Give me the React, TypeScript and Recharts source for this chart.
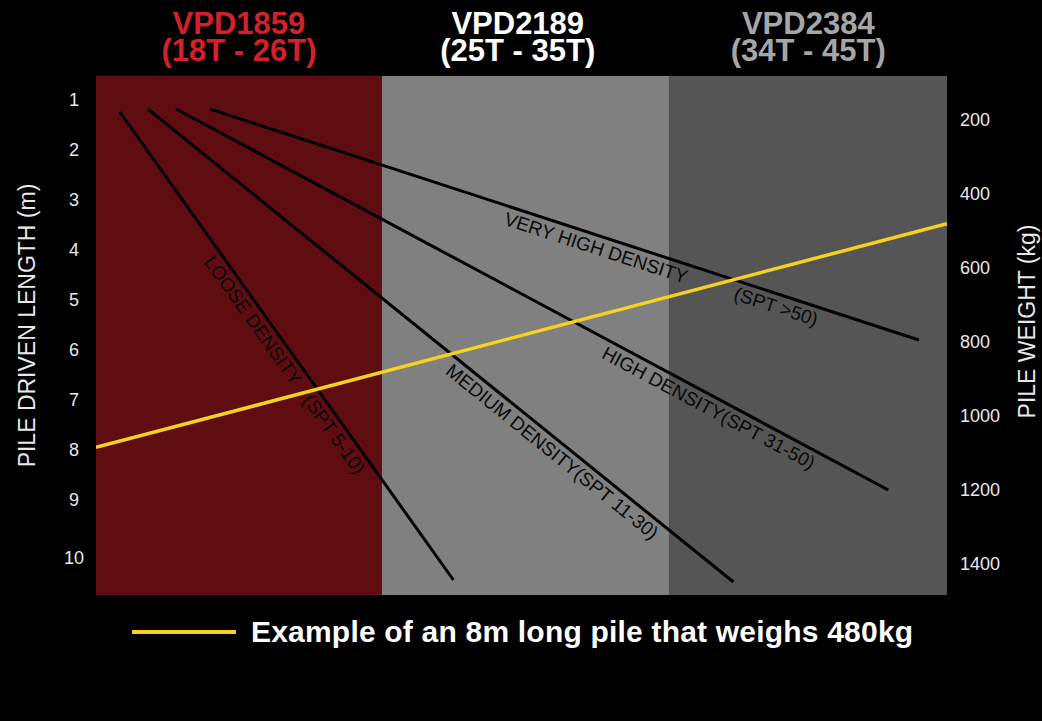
import React from 'react';
import {
  ComposedChart,
  Line,
  XAxis,
  YAxis,
  ReferenceArea,
  ReferenceDot,
  Legend,
} from 'recharts';

const FONT = "'Liberation Sans', Arial, Helvetica, sans-serif";

// hammer bands across the x range (0-100)
const bandNames = ['VPD1859', 'VPD2189', 'VPD2384'];
const bandRanges = ['(18T - 26T)', '(25T - 35T)', '(34T - 45T)'];
const bandEdges = [0, 33.6, 67.4, 100];
const bandFills = ['#600d12', '#808080', '#555555'];
const bandTitleColors = ['#d3202a', '#ffffff', '#a6a6a6'];
const bandTitleShift = [0, -8, 0];

// soil density lines (x position, pile driven length in m)
const densityStartX = [2.8, 6.1, 9.4, 13.4];
const densityStartLength = [1.24, 1.18, 1.18, 1.18];
const densityEndX = [42.0, 74.9, 93.1, 96.7];
const densityEndLength = [10.6, 10.64, 8.8, 5.8];

// label texts and where they sit along each line (0..1)
const labelLine = [0, 0, 1, 2, 3, 3];
const labelText = [
  'LOOSE DENSITY',
  '(SPT 5-10)',
  'MEDIUM DENSITY(SPT 11-30)',
  'HIGH DENSITY(SPT 31-50)',
  'VERY HIGH DENSITY',
  '(SPT >50)',
];
const labelAlong = [0.43, 0.673, 0.704, 0.756, 0.55, 0.804];

// example pile (weight axis)
const exampleX = [0, 100];
const exampleWeight = [1085, 480];

const lengthTicks = [1, 2, 3, 4, 5, 6, 7, 8, 9, 10.15];
const lengthDomain = [0.52, 10.9];
const weightTicks = [200, 400, 600, 800, 1000, 1200, 1400];
const weightDomain = [81, 1484];

const densityData = densityStartX.map((sx, i) => [
  { x: sx, len: densityStartLength[i] },
  { x: densityEndX[i], len: densityEndLength[i] },
]);
const exampleData = exampleX.map((x, i) => ({ x, kg: exampleWeight[i] }));

// plot size in px, only used to turn line slopes into text angles
const PLOT_W = 851;
const PLOT_H = 519;
const pxPerX = PLOT_W / 100;
const pxPerLen = PLOT_H / (lengthDomain[1] - lengthDomain[0]);

const BandTitle = (props: any) => {
  const { viewBox, name, range, color, shift } = props;
  const cx = viewBox.x + viewBox.width / 2 + shift;
  return (
    <text x={cx} y={viewBox.y - 42} textAnchor="middle" fill={color} fontSize={31} fontWeight="bold" fontFamily={FONT}>
      <tspan x={cx}>{name}</tspan>
      <tspan x={cx} dy={27}>
        {range}
      </tspan>
    </text>
  );
};

const DensityLabel = (props: any) => {
  const { viewBox, text, angle } = props;
  const cx = viewBox.x + (viewBox.width || 0) / 2;
  const cy = viewBox.y + (viewBox.height || 0) / 2;
  return (
    <text
      x={cx}
      y={cy}
      dy={19}
      transform={`rotate(${angle} ${cx} ${cy})`}
      textAnchor="middle"
      fill="#0a0a0a"
      fontSize={19}
      fontFamily={FONT}
    >
      {text}
    </text>
  );
};

const LengthTick = (props: any) => {
  const { x, y, payload } = props;
  return (
    <text x={x - 22} y={y} dy={6} textAnchor="middle" fill="#e8e8e8" fontSize={18} fontFamily={FONT}>
      {Math.round(payload.value)}
    </text>
  );
};

const WeightTick = (props: any) => {
  const { x, y, payload } = props;
  return (
    <text x={x + 13} y={y} dy={6} textAnchor="start" fill="#e8e8e8" fontSize={18} fontFamily={FONT}>
      {payload.value}
    </text>
  );
};

const AxisTitle = (props: any) => {
  const { viewBox, text, dx, dyc } = props;
  const x = viewBox.x + dx;
  const y = viewBox.y + viewBox.height / 2 + dyc;
  return (
    <text
      x={x}
      y={y}
      transform={`rotate(-90 ${x} ${y})`}
      textAnchor="middle"
      dominantBaseline="central"
      fill="#e8e8e8"
      fontSize={23}
      fontFamily={FONT}
    >
      {text}
    </text>
  );
};

const ExampleLegend = () => (
  <div style={{ display: 'flex', alignItems: 'center', paddingLeft: 132, height: 40 }}>
    <span style={{ display: 'inline-block', width: 104, height: 4, background: '#f3d31e', marginRight: 15 }} />
    <span
      style={{
        color: '#fff',
        fontFamily: FONT,
        fontWeight: 'bold',
        fontSize: 30,
        letterSpacing: 0.2,
        lineHeight: '40px',
      }}
    >
      Example of an 8m long pile that weighs 480kg
    </span>
  </div>
);

export default function App() {
  return (
    <div style={{ position: 'fixed', left: 0, top: 0, width: 1042, height: 721, background: '#000' }}>
      <ComposedChart width={1042} height={721} margin={{ top: 76, right: 0, bottom: 126, left: 0 }}>
        <XAxis type="number" dataKey="x" domain={[0, 100]} hide allowDataOverflow />
        <YAxis
          yAxisId="len"
          orientation="left"
          width={96}
          reversed
          domain={lengthDomain}
          ticks={lengthTicks}
          interval={0}
          allowDataOverflow
          axisLine={false}
          tickLine={false}
          tickSize={0}
          tickMargin={0}
          tick={<LengthTick />}
          label={(p: any) => <AxisTitle {...p} text="PILE DRIVEN LENGTH (m)" dx={27} dyc={-10} />}
        />
        <YAxis
          yAxisId="kg"
          orientation="right"
          width={95}
          reversed
          domain={weightDomain}
          ticks={weightTicks}
          interval={0}
          allowDataOverflow
          axisLine={false}
          tickLine={false}
          tickSize={0}
          tickMargin={0}
          tick={<WeightTick />}
          label={(p: any) => <AxisTitle {...p} text="PILE WEIGHT (kg)" dx={80} dyc={-14} />}
        />

        {bandNames.map((name, i) => (
          <ReferenceArea
            key={name}
            yAxisId="len"
            x1={bandEdges[i]}
            x2={bandEdges[i + 1]}
            fill={bandFills[i]}
            fillOpacity={1}
            stroke="none"
            ifOverflow="visible"
            label={(p: any) => (
              <BandTitle {...p} name={name} range={bandRanges[i]} color={bandTitleColors[i]} shift={bandTitleShift[i]} />
            )}
          />
        ))}

        {densityData.map((d, i) => (
          <Line
            key={`density-${i}`}
            yAxisId="len"
            data={d}
            dataKey="len"
            type="linear"
            stroke="#000"
            strokeWidth={3}
            dot={false}
            activeDot={false}
            legendType="none"
            isAnimationActive={false}
          />
        ))}

        <Line
          yAxisId="kg"
          data={exampleData}
          dataKey="kg"
          type="linear"
          stroke="#f3d31e"
          strokeWidth={3.5}
          dot={false}
          activeDot={false}
          isAnimationActive={false}
        />

        {labelText.map((text, k) => {
          const i = labelLine[k];
          const t = labelAlong[k];
          const dx = densityEndX[i] - densityStartX[i];
          const dl = densityEndLength[i] - densityStartLength[i];
          const angle = (Math.atan2(dl * pxPerLen, dx * pxPerX) * 180) / Math.PI;
          return (
            <ReferenceDot
              key={text}
              yAxisId="len"
              x={densityStartX[i] + t * dx}
              y={densityStartLength[i] + t * dl}
              r={0}
              fill="none"
              stroke="none"
              label={(p: any) => <DensityLabel {...p} text={text} angle={angle} />}
            />
          );
        })}

        <Legend
          layout="horizontal"
          verticalAlign="middle"
          align="center"
          wrapperStyle={{ top: 612, left: 0, width: 1042 }}
          content={() => <ExampleLegend />}
        />
      </ComposedChart>
    </div>
  );
}
